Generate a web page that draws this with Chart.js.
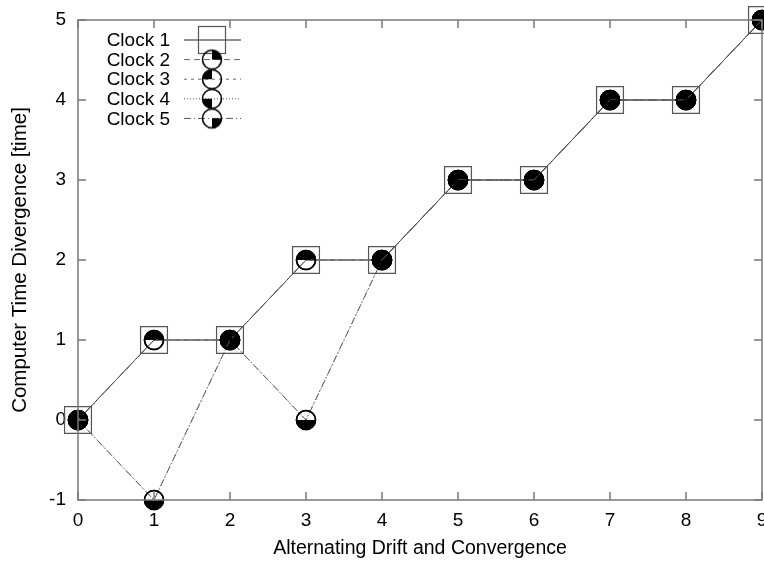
<!DOCTYPE html>
<html>
<head>
<meta charset="utf-8">
<script src="https://cdn.jsdelivr.net/npm/chart.js@4"></script>
<style>
  html, body { margin: 0; padding: 0; background: #fff; }
  canvas { display: block; }
</style>
</head>
<body>
<canvas id="clocks" width="764" height="561"></canvas>
<script>
// values
const steps = [0, 1, 2, 3, 4, 5, 6, 7, 8, 9];
const clock1 = [0, 1, 1, 2, 2, 3, 3, 4, 4, 5];
const clock2 = [0, 1, 1, 2, 2, 3, 3, 4, 4, 5];
const clock3 = [0, 1, 1, 2, 2, 3, 3, 4, 4, 5];
const clock4 = [0, -1, 1, 0, 2, 3, 3, 4, 4, 5];
const clock5 = [0, -1, 1, 0, 2, 3, 3, 4, 4, 5];
const clockNames = ['Clock 1', 'Clock 2', 'Clock 3', 'Clock 4', 'Clock 5'];
const yTicks = [-1, 0, 1, 2, 3, 4, 5];

const FONT = "'Liberation Sans', Arial, sans-serif";
const axisGray = '#7a7a7a';

// quarter filled circle, like gnuplot's clock symbols
function quarterMarker(start, end) {
    const c = document.createElement('canvas');
    c.width = 24; c.height = 24;
    const g = c.getContext('2d');
    g.beginPath();
    g.moveTo(12, 12);
    g.arc(12, 12, 9.5, start, end);
    g.closePath();
    g.fillStyle = '#000';
    g.fill();
    g.beginPath();
    g.arc(12, 12, 9.5, 0, Math.PI * 2);
    g.strokeStyle = '#000';
    g.lineWidth = 1.6;
    g.stroke();
    return c;
}
const P = Math.PI;
const markers = [
    null,
    quarterMarker(-P / 2, 0),     // top right
    quarterMarker(P, 3 * P / 2),  // top left
    quarterMarker(P / 2, P),      // bottom left
    quarterMarker(0, P / 2)       // bottom right
];

const toPoints = vals => vals.map((v, i) => ({ x: steps[i], y: v }));

const series = [clock1, clock2, clock3, clock4, clock5];
const dashes = [[], [6, 4], [3, 4], [1, 2], [7, 3, 1, 3]];
const lineColors = ['#222', '#666', '#666', '#555', '#555'];

const datasets = series.map((vals, i) => ({
    label: clockNames[i],
    data: toPoints(vals),
    borderColor: lineColors[i],
    borderWidth: 1,
    borderDash: dashes[i],
    backgroundColor: 'rgba(0,0,0,0)',
    pointStyle: i === 0 ? 'rect' : markers[i],
    pointRadius: i === 0 ? 19 : 10,
    pointBorderColor: i === 0 ? '#555' : '#000',
    pointBorderWidth: i === 0 ? 1.2 : 1,
    pointBackgroundColor: 'rgba(0,0,0,0)',
    tension: 0,
    clip: false,
    order: 5 - i
}));

// box around the plot with inward ticks on all four sides
const frame = {
    id: 'frame',
    afterDraw(chart) {
        const { ctx, chartArea: a, scales } = chart;
        ctx.save();
        ctx.strokeStyle = axisGray;
        ctx.lineWidth = 1.5;
        ctx.strokeRect(a.left, a.top, a.right - a.left, a.bottom - a.top);
        ctx.beginPath();
        steps.forEach(v => {
            const x = scales.x.getPixelForValue(v);
            ctx.moveTo(x, a.bottom); ctx.lineTo(x, a.bottom - 8);
            ctx.moveTo(x, a.top); ctx.lineTo(x, a.top + 8);
        });
        yTicks.forEach(v => {
            const y = scales.y.getPixelForValue(v);
            ctx.moveTo(a.left, y); ctx.lineTo(a.left + 8, y);
            ctx.moveTo(a.right, y); ctx.lineTo(a.right - 8, y);
        });
        ctx.stroke();
        ctx.restore();
    }
};

// gnuplot style key: label, then a line sample with the symbol in its middle
const key = {
    id: 'key',
    afterDatasetsDraw(chart) {
        const { ctx } = chart;
        ctx.save();
        ctx.font = '19px ' + FONT;
        ctx.textAlign = 'right';
        ctx.textBaseline = 'middle';
        chart.data.datasets.forEach((ds, i) => {
            const y = 40 + i * 19.6;
            ctx.fillStyle = '#000';
            ctx.fillText(ds.label, 170, y + 1);
            ctx.beginPath();
            ctx.setLineDash(ds.borderDash);
            ctx.strokeStyle = ds.borderColor;
            ctx.lineWidth = 1;
            ctx.moveTo(184, y); ctx.lineTo(241, y);
            ctx.stroke();
            ctx.setLineDash([]);
            if (i === 0) {
                ctx.strokeStyle = '#555';
                ctx.lineWidth = 1.2;
                ctx.strokeRect(198.5, y - 13.5, 27, 27);
            } else {
                ctx.drawImage(ds.pointStyle, 212 - 12, y - 12);
            }
        });
        ctx.restore();
    }
};

new Chart(document.getElementById('clocks'), {
    type: 'line',
    data: { datasets },
    plugins: [frame, key],
    options: {
        responsive: false,
        animation: false,
        layout: { autoPadding: false, padding: { top: 20, right: 2, left: 0, bottom: 0 } },
        plugins: { legend: { display: false }, tooltip: { enabled: false } },
        scales: {
            x: {
                type: 'linear',
                min: 0, max: 9,
                grid: { display: false, drawTicks: false },
                border: { display: false },
                ticks: {
                    stepSize: 1, padding: 9, color: '#000',
                    font: { family: FONT, size: 19 }
                },
                title: {
                    display: true,
                    text: 'Alternating Drift and Convergence',
                    color: '#000',
                    font: { family: FONT, size: 19.5 },
                    padding: { top: 0, bottom: 1 }
                },
                afterFit(s) { s.height = 61; s.paddingLeft = 0; s.paddingRight = 0; }
            },
            y: {
                min: -1, max: 5,
                grid: { display: false, drawTicks: false },
                border: { display: false },
                ticks: {
                    stepSize: 1, padding: 12, color: '#000',
                    font: { family: FONT, size: 19 }
                },
                title: {
                    display: true,
                    text: 'Computer Time Divergence [time]',
                    color: '#000',
                    font: { family: FONT, size: 20.5 },
                    padding: { top: 8, bottom: 0 }
                },
                afterFit(s) { s.width = 78; s.paddingTop = 0; s.paddingBottom = 0; }
            }
        }
    }
});
</script>
</body>
</html>
